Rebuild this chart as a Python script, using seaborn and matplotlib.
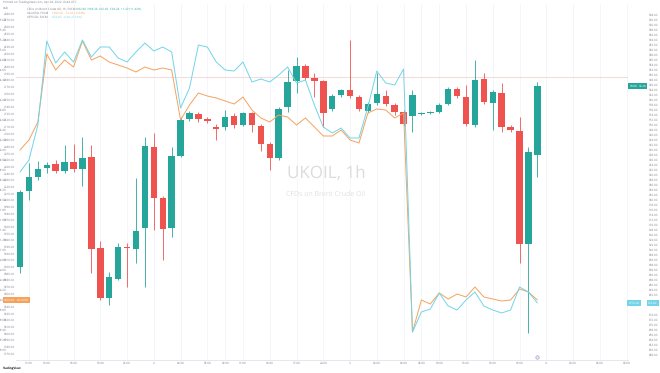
import numpy as np
import pandas as pd
import matplotlib
matplotlib.use("Agg")
import matplotlib.pyplot as plt
from matplotlib.ticker import MultipleLocator, FuncFormatter
import seaborn as sns

# UKOIL 1h candles (open, high, low, close)
opens = [90.66, 92.18, 92.46, 92.64, 92.72, 92.58, 92.76, 92.62, 92.86, 91.04,
         90.04, 90.42, 91.06, 91.02, 91.44, 93.06, 92.04, 91.44, 92.88, 93.62,
         93.72, 93.62, 93.46, 93.46, 93.68, 93.50, 93.74, 93.48, 93.12, 92.84,
         93.86, 94.38, 94.68, 94.44, 94.38, 93.82, 94.10, 94.20, 94.06, 93.78,
         93.94, 94.08, 93.90, 93.76, 93.68, 93.72, 93.74, 93.76, 93.92, 94.22,
         94.06, 93.50, 94.42, 93.94, 94.14, 93.46, 93.38, 91.12, 92.90]
highs = [92.20, 92.74, 92.78, 92.76, 92.80, 93.10, 93.12, 93.26, 93.10, 91.18,
         90.56, 91.14, 91.14, 92.44, 93.26, 93.34, 92.08, 93.06, 93.66, 93.78,
         93.76, 93.66, 93.52, 93.80, 93.74, 93.76, 93.76, 93.52, 93.16, 93.86,
         94.60, 94.86, 94.72, 94.54, 94.40, 94.12, 94.22, 95.20, 94.10, 93.96,
         94.54, 94.20, 93.94, 93.80, 94.20, 93.76, 93.78, 93.94, 94.26, 94.26,
         94.30, 94.80, 94.54, 94.20, 94.34, 93.50, 93.66, 93.06, 94.36]
lows = [90.54, 92.00, 92.40, 92.54, 92.54, 92.54, 92.56, 92.28, 90.54, 90.00,
        89.90, 90.40, 90.26, 90.74, 90.26, 91.40, 90.80, 91.26, 92.86, 93.58,
        93.56, 93.54, 93.20, 93.40, 93.44, 93.48, 93.36, 92.98, 92.60, 92.80,
        93.76, 94.14, 94.40, 94.06, 93.46, 93.78, 94.06, 94.04, 93.78, 93.74,
        93.90, 93.88, 93.70, 93.48, 93.36, 93.70, 93.72, 93.74, 93.90, 94.04,
        93.48, 93.46, 93.92, 93.40, 93.36, 93.36, 90.74, 89.34, 92.46]
closes = [92.16, 92.46, 92.62, 92.70, 92.58, 92.76, 92.62, 92.84, 91.02, 90.04,
          90.46, 91.06, 91.04, 91.38, 93.08, 92.04, 91.42, 92.88, 93.60, 93.74,
          93.62, 93.58, 93.42, 93.66, 93.50, 93.74, 93.50, 93.12, 92.84, 93.82,
          94.36, 94.68, 94.44, 94.38, 93.74, 94.08, 94.20, 94.08, 93.82, 93.92,
          94.12, 93.92, 93.76, 93.52, 94.10, 93.74, 93.76, 93.90, 94.22, 94.08,
          93.52, 94.40, 93.96, 94.16, 93.46, 93.40, 91.12, 92.96, 94.28]

# compared symbols (own scales)
gold = [2075, 2090, 2117, 2219, 2195, 2210, 2199.5, 2238.5, 2210, 2216,
        2207, 2202.5, 2198, 2192, 2199.5, 2195, 2198, 2195, 2120, 2142.5,
        2160.5, 2156, 2153, 2148.5, 2144, 2154.5, 2135, 2123, 2117, 2127.5,
        2124.5, 2112.5, 2123, 2109.5, 2096, 2096, 2105, 2090, 2085.5, 2130.5,
        2136.5, 2135, 2123, 2130.5, 1802, 1850, 1844, 1860.5, 1851.5, 1859,
        1854.5, 1869.5, 1854.5, 1851.5, 1848.5, 1850, 1866.5, 1862, 1850]
platinum = [931.2, 936.0, 950.0, 983.6, 974.8, 979.2, 975.2, 984.0, 977.2, 981.2,
            981.2, 976.8, 975.2, 979.2, 982.8, 979.6, 981.2, 979.2, 956.8, 964.8,
            982.0, 981.2, 975.2, 972.0, 971.6, 975.2, 967.2, 968.4, 967.2, 970.0,
            973.2, 966.8, 968.0, 958.0, 949.2, 946.8, 948.8, 944.8, 944.8, 957.2,
            971.6, 966.8, 966.0, 972.4, 867.2, 875.2, 876.4, 882.8, 877.6, 876.0,
            880.0, 883.2, 877.6, 876.0, 874.8, 876.0, 885.2, 883.2, 878.8]

prev_close = 94.46
time_ticks = [1, 3, 6, 9, 12, 15, 18, 21, 23, 25, 28, 31, 34, 37, 40, 43, 45,
              47, 50, 53, 56, 59, 62, 65, 68]
time_labels = ['11:00', '13:00', '16:00', '19:00', '22:00', '2', '04:00', '07:00',
               '09:00', '11:00', '14:00', '17:00', '20:00', '3', '03:00', '06:00',
               '08:00', '10:00', '13:00', '16:00', '19:00', '4', '03:00', '06:00', '09:00']

GREEN = '#26a69a'
RED = '#ef5350'
ORANGE = '#f5a25d'
CYAN = '#72d4e8'
TXT = '#787b86'
FS = 2.5

sns.set_theme(style="white")
plt.rcParams['font.family'] = ['Open Sans', 'DejaVu Sans']
plt.rcParams['text.hinting'] = 'no_hinting'
plt.rcParams['text.hinting_factor'] = 1

df = pd.DataFrame({'open': opens, 'high': highs, 'low': lows, 'close': closes,
                   'gold': gold, 'platinum': platinum})
df['i'] = np.arange(len(df))
up = df['close'] >= df['open']
colors = np.where(up, GREEN, RED)


def price_fmt(last, gap, top, bottom):
    # hide scale labels that sit behind the price tags, header or time axis
    def f(v, p):
        if abs(v - last) < gap or v > top or v < bottom:
            return ''
        return f"{v:.2f}"
    return FuncFormatter(f)


fig = plt.figure(figsize=(6.6, 3.73), dpi=100)
ax = fig.add_axes([16 / 660, 1 - 360 / 373, 612 / 660, 356 / 373])

# candles
ax.vlines(df['i'], df['low'], df['high'], color=colors, lw=0.6, zorder=2)
body = np.maximum((df['close'] - df['open']).abs(), 0.02)
ax.bar(df['i'], body, bottom=np.minimum(df['open'], df['close']), width=0.72,
       color=colors, linewidth=0, zorder=3)
ax.axhline(prev_close, color='#f4d3d3', lw=0.6, zorder=1)

ax.set_xlim(-0.45, 68.16)
ax.set_ylim(88.8, 95.92)
ax.yaxis.tick_right()
ax.yaxis.set_major_locator(MultipleLocator(0.2))
ax.yaxis.set_minor_locator(MultipleLocator(0.6))
ax.yaxis.set_major_formatter(price_fmt(closes[-1], 0.12, 95.8, 88.9))
ax.tick_params(axis='y', which='both', length=0, pad=7, labelsize=FS, labelcolor=TXT)
ax.set_xticks(time_ticks)
ax.set_xticklabels(time_labels)
ax.tick_params(axis='x', length=0, pad=1.5, labelsize=FS, labelcolor=TXT)
ax.grid(False)
ax.grid(True, which='minor', axis='y', color='#f0f3fa', lw=0.5)
ax.grid(True, which='major', axis='x', color='#f0f3fa', lw=0.5)
for s in ['top', 'left', 'right']:
    ax.spines[s].set_visible(False)
ax.spines['bottom'].set_color('#e0e3eb')
ax.spines['bottom'].set_linewidth(0.6)
ax.set_xlabel('')
ax.set_ylabel('')

# gold on left scale
axL = ax.twinx()
sns.lineplot(data=df, x='i', y='gold', ax=axL, color=ORANGE, lw=0.7)
axL.set_ylim(1760, 2294)
axL.yaxis.tick_left()
axL.yaxis.set_major_locator(MultipleLocator(10))
axL.yaxis.set_major_formatter(price_fmt(gold[-1], 8, 2282, 1765))
axL.tick_params(axis='y', length=0, pad=0.5, labelsize=2.1, labelcolor=TXT)
axL.set_ylabel('')
axL.set_xlabel('')

# platinum on outer right scale
axC = ax.twinx()
sns.lineplot(data=df, x='i', y='platinum', ax=axC, color=CYAN, lw=0.7)
axC.set_ylim(856, 998.4)
axC.spines['right'].set_position(('outward', 14))
axC.yaxis.set_major_locator(MultipleLocator(2))
axC.yaxis.set_major_formatter(price_fmt(platinum[-1], 3, 994, 858))
axC.tick_params(axis='y', length=0, pad=1, labelsize=2.3, labelcolor=TXT)
axC.set_ylabel('')
axC.set_xlabel('')
for a in (axL, axC):
    for s in a.spines.values():
        s.set_visible(False)


def tag(a, x, val, text, fc, dx, ha='left'):
    a.annotate(text, xy=(x, val), xycoords=('axes fraction', 'data'),
               xytext=(dx, 0), textcoords='offset points', ha=ha, va='center',
               fontsize=FS, color='white', annotation_clip=False,
               bbox=dict(boxstyle='square,pad=0.35', fc=fc, ec='none'))


tag(ax, 1.0, closes[-1], 'UKOIL', GREEN, 1)
tag(ax, 1.0, closes[-1], f"{closes[-1]:.2f}", GREEN, 7.5)
tag(axC, 1.0, platinum[-1], 'XPTUSD', CYAN, 0.5)
tag(axC, 1.0, platinum[-1], f"{platinum[-1]:.2f}", CYAN, 14.5)
tag(axL, 0.0, gold[-1], f"{gold[-1]:.2f}", ORANGE, -0.6, ha='right')
tag(axL, 0.0, gold[-1], 'XAUUSD', ORANGE, 0.5)

# event marker on time axis
ax.scatter([58], [0.008], transform=ax.get_xaxis_transform(), s=6,
           facecolor='#ede7f6', edgecolor='#b39ddb', lw=0.5, clip_on=False, zorder=5)

# watermark
fig.text(326 / 660, 1 - 174 / 373, 'UKOIL, 1h', ha='center', va='center',
         fontsize=12, color='#dcdcdc')
fig.text(326 / 660, 1 - 194 / 373, 'CFDs on Brent Crude Oil', ha='center',
         va='center', fontsize=5.2, color='#e0e0e0')

# header and legend
fig.text(3 / 660, 1 - 3 / 373, 'Printed on TradingView.com, Apr 04, 2022 10:44 UTC',
         fontsize=FS, color=TXT, va='center')
fig.text(3 / 660, 1 - 8.5 / 373, 'USD', fontsize=FS, color=TXT, va='center')
fig.text(27 / 660, 1 - 8.5 / 373, 'CFDs on Brent Crude Oil, 1h, FXCM', fontsize=FS,
         color=TXT, va='center')
fig.text(76 / 660, 1 - 8.5 / 373, 'O92.90  H94.36  L92.46  C94.28  +1.32 (+1.42%)',
         fontsize=FS, color=GREEN, va='center')
fig.text(27 / 660, 1 - 12.5 / 373, 'XAUUSD, FXCM', fontsize=FS, color=TXT, va='center')
fig.text(52 / 660, 1 - 12.5 / 373, '1850.00  -12.00 (-0.64%)', fontsize=FS,
         color=ORANGE, va='center')
fig.text(27 / 660, 1 - 16.5 / 373, 'XPTUSD, FXCM', fontsize=FS, color=TXT, va='center')
fig.text(52 / 660, 1 - 16.5 / 373, '878.80  -4.40 (-0.50%)', fontsize=FS,
         color=CYAN, va='center')
fig.text(3 / 660, 1 - 369 / 373, 'TradingView', fontsize=FS, color='#131722',
         va='center', fontweight='bold')

fig.savefig('out.png', dpi=100)
